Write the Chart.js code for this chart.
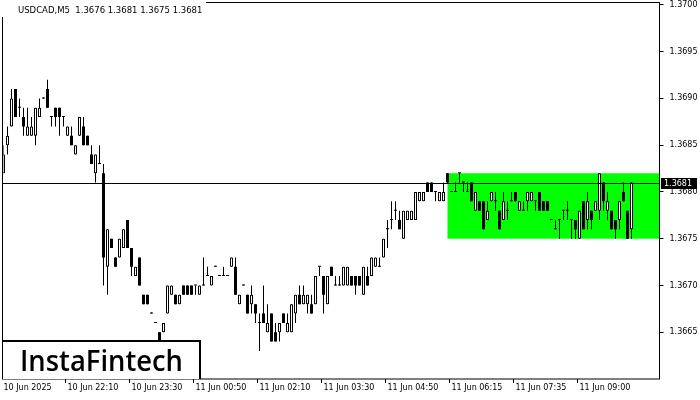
<!DOCTYPE html>
<html lang="en">
<head>
<meta charset="UTF-8">
<title>USDCAD M5</title>
<script src="https://cdn.jsdelivr.net/npm/chart.js"></script>
<style>
  html, body { margin: 0; padding: 0; background: #fff; }
</style>
</head>
<body>
<canvas id="chart" width="700" height="400"></canvas>
<script>
// candles, one per 5 min bar
const opens = [1.3682,1.3685,1.3687,1.3691,1.3689,1.3688,1.3686,1.3686,1.3686,1.3688,
  1.3690,1.3691,1.3688,1.3689,1.3689,1.3688,1.3686,1.3686,1.3684,1.3686,
  1.3687,1.3686,1.3684,1.3682,1.3683,1.3682,1.3672,1.3675,1.3673,1.3673,
  1.3674,1.3677,1.3674,1.3671,1.3673,1.3669,1.3669,1.3667,1.3666,1.3665,
  1.3665,1.3667,1.3669,1.3669,1.3668,1.3670,1.3670,1.3670,1.3670,1.3669,
  1.3670,1.3671,1.3670,1.3672,1.3671,1.3671,1.3671,1.3672,1.3672,1.3668,
  1.3670,1.3669,1.3668,1.3668,1.3666,1.3667,1.3665,1.3667,1.3665,1.3665,
  1.3667,1.3665,1.3665,1.3667,1.3669,1.3668,1.3668,1.3668,1.3668,1.3672,
  1.3671,1.3668,1.3672,1.3670,1.3670,1.3670,1.3670,1.3671,1.3671,1.3671,
  1.3669,1.3671,1.3671,1.3672,1.3672,1.3673,1.3676,1.3677,1.3678,1.3677,
  1.3675,1.3677,1.3677,1.3677,1.3679,1.3679,1.3681,1.3681,1.3680,1.3679,
  1.3679,1.3682,1.3680,1.3680,1.3682,1.3681,1.3680,1.3681,1.3678,1.3679,
  1.3679,1.3677,1.3679,1.3679,1.3678,1.3677,1.3678,1.3679,1.3680,1.3678,
  1.3678,1.3679,1.3679,1.3679,1.3680,1.3679,1.3679,1.3677,1.3676,1.3677,
  1.3678,1.3678,1.3677,1.3677,1.3675,1.3679,1.3677,1.3678,1.3678,1.3678,
  1.3681,1.3678,1.3678,1.3677,1.3677,1.3680,1.3678,1.3676];
const highs = [1.3685,1.3687,1.3691,1.3691,1.3690,1.3689,1.3689,1.3688,1.3689,1.3690,
  1.3690,1.3692,1.3688,1.3689,1.3689,1.3688,1.3687,1.3687,1.3685,1.3688,
  1.3688,1.3686,1.3685,1.3684,1.3685,1.3683,1.3676,1.3675,1.3673,1.3675,
  1.3676,1.3677,1.3674,1.3672,1.3673,1.3669,1.3669,1.3667,1.3666,1.3665,
  1.3666,1.3670,1.3670,1.3669,1.3669,1.3670,1.3670,1.3670,1.3670,1.3670,
  1.3673,1.3672,1.3671,1.3672,1.3671,1.3672,1.3671,1.3673,1.3673,1.3669,
  1.3670,1.3669,1.3670,1.3668,1.3667,1.3670,1.3668,1.3667,1.3666,1.3666,
  1.3667,1.3667,1.3668,1.3669,1.3670,1.3670,1.3669,1.3669,1.3671,1.3672,
  1.3671,1.3671,1.3672,1.3671,1.3671,1.3672,1.3672,1.3671,1.3671,1.3671,
  1.3672,1.3672,1.3673,1.3673,1.3673,1.3675,1.3677,1.3679,1.3679,1.3678,
  1.3678,1.3678,1.3678,1.3680,1.3680,1.3680,1.3681,1.3681,1.3680,1.3680,
  1.3681,1.3682,1.3680,1.3681,1.3682,1.3681,1.3681,1.3681,1.3680,1.3679,
  1.3679,1.3679,1.3680,1.3680,1.3678,1.3680,1.3679,1.3680,1.3680,1.3679,
  1.3679,1.3680,1.3680,1.3679,1.3680,1.3679,1.3679,1.3677,1.3677,1.3677,
  1.3678,1.3679,1.3677,1.3677,1.3678,1.3679,1.3680,1.3678,1.3679,1.3682,
  1.3681,1.3680,1.3678,1.3677,1.3679,1.3681,1.3678,1.3681];
const lows = [1.3682,1.3684,1.3687,1.3688,1.3688,1.3686,1.3686,1.3686,1.3685,1.3688,
  1.3690,1.3689,1.3687,1.3687,1.3686,1.3687,1.3686,1.3685,1.3684,1.3686,
  1.3685,1.3685,1.3683,1.3681,1.3683,1.3670,1.3669,1.3674,1.3672,1.3673,
  1.3674,1.3674,1.3671,1.3671,1.3670,1.3668,1.3668,1.3667,1.3666,1.3664,
  1.3665,1.3667,1.3669,1.3668,1.3668,1.3669,1.3669,1.3669,1.3669,1.3669,
  1.3670,1.3671,1.3670,1.3672,1.3671,1.3671,1.3671,1.3672,1.3669,1.3668,
  1.3670,1.3667,1.3667,1.3666,1.3663,1.3666,1.3665,1.3664,1.3664,1.3664,
  1.3666,1.3665,1.3665,1.3666,1.3668,1.3668,1.3667,1.3667,1.3668,1.3671,
  1.3667,1.3668,1.3671,1.3670,1.3670,1.3670,1.3670,1.3670,1.3669,1.3670,
  1.3669,1.3670,1.3671,1.3672,1.3672,1.3673,1.3674,1.3676,1.3677,1.3676,
  1.3675,1.3677,1.3677,1.3677,1.3679,1.3679,1.3680,1.3680,1.3679,1.3679,
  1.3679,1.3681,1.3680,1.3680,1.3681,1.3680,1.3680,1.3679,1.3678,1.3678,
  1.3676,1.3677,1.3679,1.3678,1.3676,1.3677,1.3677,1.3679,1.3679,1.3678,
  1.3678,1.3678,1.3679,1.3678,1.3678,1.3678,1.3678,1.3677,1.3676,1.3675,
  1.3677,1.3677,1.3675,1.3675,1.3675,1.3676,1.3676,1.3676,1.3678,1.3677,
  1.3678,1.3677,1.3676,1.3675,1.3676,1.3679,1.3675,1.3675];
const closes = [1.3684,1.3686,1.3690,1.3688,1.3689,1.3687,1.3687,1.3687,1.3689,1.3689,
  1.3690,1.3689,1.3688,1.3688,1.3688,1.3688,1.3687,1.3685,1.3685,1.3688,
  1.3685,1.3685,1.3683,1.3684,1.3683,1.3673,1.3676,1.3674,1.3672,1.3675,
  1.3676,1.3674,1.3672,1.3672,1.3670,1.3668,1.3668,1.3667,1.3666,1.3664,
  1.3666,1.3670,1.3670,1.3668,1.3669,1.3669,1.3669,1.3669,1.3670,1.3670,
  1.3670,1.3671,1.3671,1.3672,1.3671,1.3671,1.3671,1.3673,1.3669,1.3669,
  1.3670,1.3667,1.3669,1.3667,1.3666,1.3666,1.3666,1.3664,1.3664,1.3666,
  1.3666,1.3666,1.3668,1.3669,1.3668,1.3669,1.3669,1.3667,1.3671,1.3672,
  1.3669,1.3671,1.3671,1.3670,1.3670,1.3672,1.3672,1.3670,1.3670,1.3670,
  1.3672,1.3670,1.3673,1.3673,1.3672,1.3675,1.3676,1.3677,1.3678,1.3676,
  1.3678,1.3678,1.3678,1.3680,1.3680,1.3680,1.3680,1.3680,1.3680,1.3680,
  1.3680,1.3681,1.3680,1.3680,1.3682,1.3681,1.3680,1.3679,1.3680,1.3678,
  1.3676,1.3678,1.3680,1.3679,1.3676,1.3679,1.3678,1.3679,1.3679,1.3679,
  1.3678,1.3680,1.3680,1.3679,1.3678,1.3678,1.3678,1.3677,1.3676,1.3677,
  1.3678,1.3678,1.3677,1.3676,1.3678,1.3676,1.3679,1.3677,1.3679,1.3682,
  1.3679,1.3679,1.3676,1.3676,1.3679,1.3679,1.3675,1.3681];

const timeLabels = ['10 Jun 2025', '10 Jun 22:10', '10 Jun 23:30', '11 Jun 00:50', '11 Jun 02:10',
  '11 Jun 03:30', '11 Jun 04:50', '11 Jun 06:15', '11 Jun 07:35', '11 Jun 09:00'];
const timeLabelIndex = [0, 16, 32, 48, 64, 80, 96, 112, 128, 144];
const yTickValues = [1.3665, 1.3670, 1.3675, 1.3680, 1.3685, 1.3690, 1.3695, 1.3700];

const slotCount = 165;          // bars + empty shift on the right
const zoneStart = 111;          // green rectangle starts at this bar
const zoneTop = 1.3682, zoneBottom = 1.3675;
const levelPrice = 1.3681;
const headerText = 'USDCAD,M5  1.3676 1.3681 1.3675 1.3681';

const labels = [];
for (let i = 0; i < slotCount; i++) {
    const k = timeLabelIndex.indexOf(i);
    labels.push(k >= 0 ? timeLabels[k] : '');
}
const bodies = opens.map((o, i) => [Math.min(o, closes[i]), Math.max(o, closes[i])]);
const wicks = lows.map((l, i) => [l, highs[i]]);
const isUp = i => closes[i] > opens[i];

const overlay = {
    id: 'overlay',
    beforeDatasetsDraw(chart) {
        const { ctx, chartArea: a, scales: { x, y } } = chart;
        ctx.save();
        ctx.fillStyle = '#00ff00';
        const zx = x.getPixelForValue(zoneStart);
        const zt = y.getPixelForValue(zoneTop), zb = y.getPixelForValue(zoneBottom);
        ctx.fillRect(zx, zt, a.right - zx, zb - zt);
        ctx.restore();
    },
    afterDatasetsDraw(chart) {
        const { ctx, chartArea: a, scales: { y } } = chart;
        const ly = Math.round(y.getPixelForValue(levelPrice)) + 0.5;
        ctx.save();
        ctx.strokeStyle = '#000';
        ctx.lineWidth = 1;
        ctx.beginPath();
        ctx.moveTo(a.left - 1, ly);
        ctx.lineTo(a.right, ly);
        ctx.stroke();
        ctx.restore();
    },
    afterDraw(chart) {
        const { ctx, chartArea: a, scales: { y } } = chart;
        ctx.save();
        // frame
        ctx.strokeStyle = '#000';
        ctx.lineWidth = 1;
        ctx.strokeRect(2.5, 2.5, a.right - 2.5, a.bottom - 2.5);
        // header
        ctx.fillStyle = '#fff';
        ctx.fillRect(0, 0, 206, 17);
        ctx.fillStyle = '#000';
        ctx.font = '8.5px "DejaVu Sans"';
        ctx.textBaseline = 'middle';
        ctx.textAlign = 'left';
        ctx.fillText(headerText, 18, 11);
        // price tag
        const py = Math.round(y.getPixelForValue(closes[closes.length - 1]));
        ctx.fillStyle = '#000';
        ctx.fillRect(661, py - 5, 36, 11);
        ctx.fillStyle = '#fff';
        ctx.font = '8px "DejaVu Sans"';
        ctx.fillText(closes[closes.length - 1].toFixed(4), 664, py + 0.5);
        // logo box
        ctx.fillStyle = '#fff';
        ctx.fillRect(3, 340, 198, a.bottom - 340);
        ctx.lineWidth = 2;
        ctx.strokeStyle = '#000';
        ctx.beginPath();
        ctx.moveTo(3, 341);
        ctx.lineTo(200, 341);
        ctx.lineTo(200, a.bottom);
        ctx.stroke();
        ctx.fillStyle = '#000';
        ctx.font = '600 28px "Open Sans"';
        const w = ctx.measureText('InstaFintech').width;
        ctx.save();
        ctx.translate(20, 371);
        ctx.scale(163 / w, 1);
        ctx.textBaseline = 'alphabetic';
        ctx.fillText('InstaFintech', 0, 0);
        ctx.restore();
        ctx.restore();
    }
};

new Chart(document.getElementById('chart'), {
    type: 'bar',
    data: {
        labels: labels,
        datasets: [
            {
                label: 'body',
                data: bodies,
                backgroundColor: c => isUp(c.dataIndex) ? '#fff' : '#000',
                borderColor: '#000',
                borderWidth: c => isUp(c.dataIndex) ? 1 : 0,
                borderSkipped: false,
                barThickness: 3,
                minBarLength: 1,
                grouped: false,
                inflateAmount: 0
            },
            {
                label: 'wick',
                data: wicks,
                backgroundColor: '#000',
                borderWidth: 0,
                barThickness: 1,
                minBarLength: 1,
                grouped: false,
                inflateAmount: 0
            }
        ]
    },
    options: {
        responsive: false,
        animation: false,
        devicePixelRatio: 1,
        layout: { padding: { left: 3.5, top: 3, right: 0, bottom: 0 } },
        plugins: { legend: { display: false }, tooltip: { enabled: false } },
        scales: {
            x: {
                type: 'category',
                offset: false,
                afterFit: s => { s.height = 21; s.paddingLeft = 0; s.paddingRight = 0; },
                border: { display: false },
                grid: {
                    drawOnChartArea: false,
                    tickLength: 4,
                    color: c => labels[c.index] ? '#000' : 'rgba(0,0,0,0)'
                },
                ticks: {
                    autoSkip: false,
                    maxRotation: 0,
                    minRotation: 0,
                    align: 'start',
                    padding: 0,
                    color: '#000',
                    font: { family: 'DejaVu Sans', size: 8 },
                    callback: (v, i) => labels[i]
                }
            },
            y: {
                position: 'right',
                min: 1.3660,
                max: 1.37002,
                afterBuildTicks: s => { s.ticks = yTickValues.map(v => ({ value: v })); },
                afterFit: s => { s.width = 40.5; s.paddingTop = 0; s.paddingBottom = 0; },
                border: { display: false },
                grid: { drawOnChartArea: false, tickLength: 4, color: '#000' },
                ticks: {
                    padding: 6,
                    color: '#000',
                    font: { family: 'DejaVu Sans', size: 8 },
                    callback: v => v.toFixed(4)
                }
            }
        }
    },
    plugins: [overlay]
});
</script>
</body>
</html>
